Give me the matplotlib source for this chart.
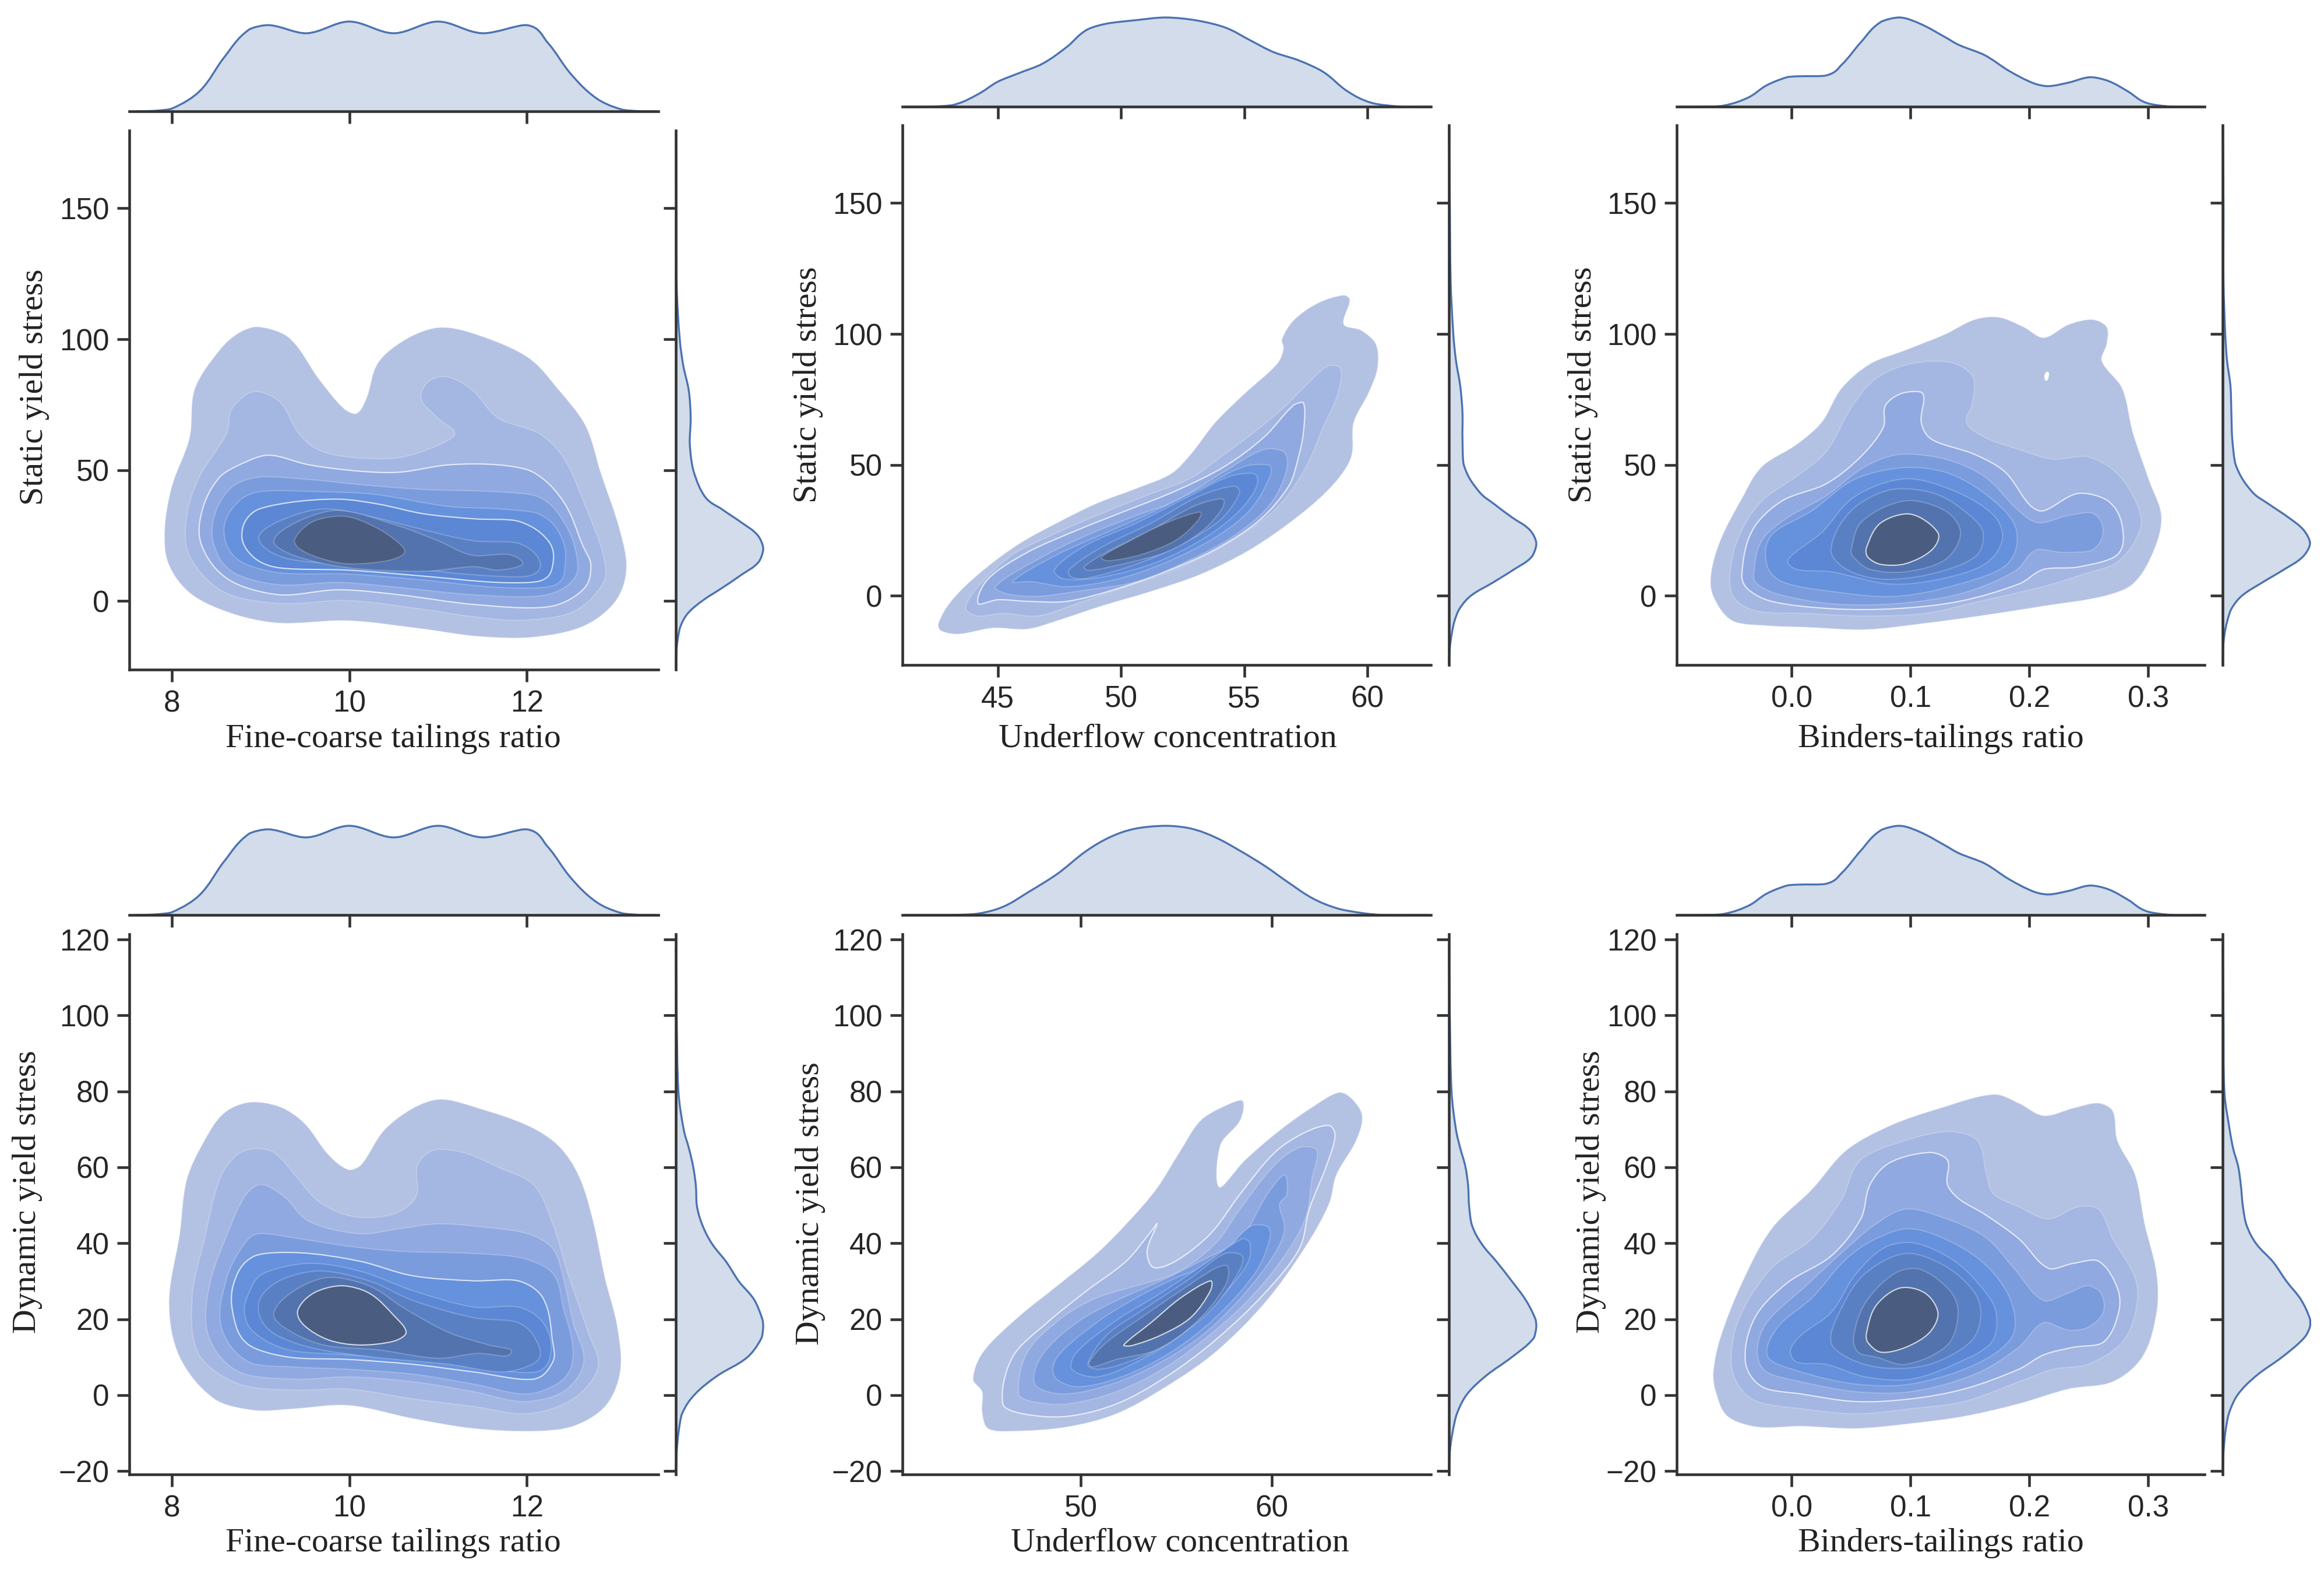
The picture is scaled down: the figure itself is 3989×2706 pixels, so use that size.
import numpy as np
import matplotlib
matplotlib.use('Agg')
import matplotlib.pyplot as plt
from matplotlib.path import Path
from matplotlib.patches import PathPatch

W, H = 3989, 2706

band_colors = ['#b3c1e3', '#a4b6e2', '#90a9e0', '#7a9cdd', '#6691dc',
               '#5b87d4', '#5a80c4', '#5273ad', '#4a5d80']

# contour outlines, outermost first in data units
fine_static = [
    [(8.98,104.7),(9.32,100.6),(9.66,84.7),(9.94,73.5),(10.08,71.6),(10.19,77.2),(10.33,91.3),(10.67,100.6),(11.03,104.5),(11.45,101.6),(12.01,93.1),(12.35,81),(12.66,67),(12.83,49.2),(13.05,26.7),(13.12,11.8),(12.99,-0.4),(12.63,-9.7),(12.07,-13.8),(11.45,-13.5),(10.84,-10.7),(9.99,-7.5),(9.21,-8.4),(8.70,-5),(8.23,2.4),(7.97,13.7),(7.92,26.7),(8.0,43.6),(8.2,62.3),(8.26,81),(8.54,95.9),(8.76,102.5)],
    [(8.93,80),(9.21,76.3),(9.43,64.1),(9.66,57.6),(10.05,54.8),(10.56,54.8),(11.0,59.5),(11.19,64.1),(11.0,69.8),(10.81,77.2),(10.89,83.8),(11.09,85.7),(11.37,81),(11.68,69.8),(12.13,64.1),(12.41,54.8),(12.66,36.1),(12.86,17.4),(12.86,7.1),(12.52,-4.1),(11.96,-7.3),(11.4,-6),(10.84,-3.2),(9.99,0.2),(9.21,-0.9),(8.59,3.4),(8.2,17.4),(8.17,32.4),(8.31,47.3),(8.62,64.1),(8.68,73.5)],
    [(9.1,55.7),(9.55,52),(10.11,49.6),(10.56,49.2),(11.12,52),(11.68,52),(12.07,49.2),(12.41,38),(12.63,21.1),(12.72,13.7),(12.63,4.3),(12.24,-2.2),(11.4,-1.3),(10.56,2.4),(9.88,4.3),(9.21,2.4),(8.65,8),(8.34,21.1),(8.34,34.2),(8.54,47.3),(8.82,52.9)],
    [(8.98,47.3),(9.55,46.4),(10.11,44.5),(10.84,42.6),(11.68,41.7),(12.13,39.8),(12.41,30.5),(12.56,17.4),(12.52,8),(12.18,2.1),(11.4,2.4),(10.56,5.2),(9.88,7.1),(9.21,6.2),(8.7,10.8),(8.48,21.1),(8.48,32.4),(8.68,43.6)],
    [(8.98,41.7),(9.71,41.7),(10.27,40.8),(11.12,36.1),(11.68,35.2),(12.13,33.3),(12.38,24.9),(12.43,13.7),(12.29,5.8),(11.68,5.2),(10.84,8),(9.99,10.3),(9.21,10.8),(8.76,15.5),(8.59,25.8),(8.7,36.1)],
    [(8.79,24.9),(8.93,34.2),(9.32,37.6),(9.88,38.9),(10.33,37),(10.84,33.3),(11.4,31.4),(11.9,30.5),(12.24,23),(12.29,13.7),(12.15,7.7),(11.68,7.1),(10.84,9.5),(9.99,11.8),(9.21,12.7),(8.93,16.5)],
    [(8.98,23.9),(9.21,30.5),(9.71,35.2),(10.22,32.4),(10.78,27.7),(11.4,23),(11.9,22.1),(12.15,14.6),(12.01,9.5),(11.45,9.9),(10.84,11.8),(9.99,13.7),(9.27,16.5)],
    [(9.15,23),(9.43,30.5),(9.88,34.6),(10.56,28.6),(11,23),(11.4,17.4),(11.79,17.8),(11.95,14),(11.68,11.8),(11.4,13.1),(10.84,11.4),(9.99,12.7),(9.38,17.4)],
    [(9.39,23.9),(9.6,30.5),(9.94,32.4),(10.27,28.6),(10.56,22.1),(10.62,18.3),(10.44,15.5),(9.99,14.2),(9.66,16.5),(9.43,20.2)],
]

under_static = [
    [(42.59,-10.5),(43.1,-2.1),(44.2,8.2),(45.8,19.5),(47.41,27.9),(49.01,35.3),(50.61,41),(52.02,46.6),(52.82,54),(53.82,66.2),(55.03,77.4),(56.33,88.6),(56.59,94.3),(56.53,98),(57.03,105.5),(58.03,112),(59.04,114.8),(59.28,113),(59.04,103.6),(59.74,101.4),(60.34,96.1),(60.4,86.8),(60.04,77.4),(59.44,66.2),(59.34,53.1),(58.64,42.8),(57.23,30.7),(55.23,17.6),(53.22,8.2),(51.22,1.7),(49.21,-3.9),(47.41,-9.5),(46.2,-12.7),(44.8,-12.3),(43.4,-14.6),(42.69,-13.3)],
    [(43.7,-4.9),(44.2,3.5),(45.6,15.7),(47.4,24.1),(49.0,30.6),(51.0,38.2),(52.8,44.8),(54.2,54.1),(55.4,62.5),(56.6,71.9),(57.4,79.4),(58.4,87.8),(58.9,86.9),(58.8,77.4),(58.2,64.4),(57.4,47.5),(56.2,32.5),(54.2,19.4),(52.2,10),(50.2,3.5),(48.2,-3),(46.6,-7.7),(45.2,-6.7),(44.2,-7.7)],
    [(44.2,-3),(44.6,6.4),(46.2,16.6),(48.2,25),(50.2,32.5),(52.2,40),(54.2,49.4),(55.8,60.6),(57.0,72.8),(57.4,73.7),(57.4,62.5),(57.2,53.1),(56.8,41.9),(55.6,28.8),(53.8,17.6),(51.8,9.2),(49.8,2.6),(47.8,-2.1),(46.2,-2.1),(45.0,-1.5)],
    [(44.9,3.5),(46.6,13.8),(48.6,23.1),(50.6,30.6),(52.2,36.2),(54.2,47.5),(55.8,55.9),(56.6,55),(56.7,47.5),(56.0,34.4),(54.6,23.1),(52.8,13.8),(50.6,5.4),(48.2,1.7),(46.6,-0.2),(45.4,0.7)],
    [(45.6,5.4),(47.4,15.7),(49.4,24.1),(51.4,32.5),(53.4,41.9),(55.0,49.4),(56.0,49.8),(56.0,44.8),(55.2,32.5),(53.8,22.2),(51.8,12.7),(49.8,6.3),(47.8,3.5),(46.4,5.4)],
    [(47.3,10),(48.6,19.4),(50.6,27.7),(52.8,38.2),(54.4,45.6),(55.4,46.6),(55.5,41.9),(54.8,32.5),(53.4,22.2),(51.4,12.7),(49.2,7.1),(47.7,6.4)],
    [(47.9,10),(49.2,18.5),(51.2,27.7),(53.2,38.2),(54.6,41.9),(54.8,39.1),(54.0,28.8),(52.4,19.4),(50.6,12),(48.6,6.7),(48.0,7.1)],
    [(48.5,11),(49.4,16.6),(51.2,25),(53.0,34.4),(54.1,37),(54.1,33.3),(53.2,24.1),(51.8,16.6),(50,12),(48.7,9.7)],
    [(49.2,14.6),(50.2,20.2),(51.8,27.7),(53.2,32),(53.1,28.6),(52.2,21.1),(50.8,15.7),(49.5,13.4)],
]

binder_static = [
    [(-.068,8.2),(-.060,21.3),(-.042,37.2),(-.025,49.4),(.004,57.8),(.025,66.2),(.042,79.3),(.066,88.6),(.096,93.9),(.129,99.9),(.154,105.5),(.174,106.4),(.195,102.7),(.212,98.6),(.233,103.6),(.253,105.5),(.265,102.7),(.265,96.1),(.261,89.6),(.278,79.3),(.287,62.5),(.301,43.8),(.311,30.7),(.305,17.6),(.287,4.5),(.262,-.2),(.212,-3.9),(.158,-7.7),(.112,-10.5),(.062,-12.9),(.012,-12),(-.021,-11.4),(-.050,-9.5),(-.066,-.2)],
    [(-.052,8.2),(-.044,23.2),(-.025,36.3),(.004,45.6),(.029,55),(.05,71.8),(.071,83),(.1,88.6),(.133,89.2),(.152,84),(.152,73.7),(.147,66.2),(.162,60.6),(.191,55.9),(.22,52.2),(.249,53.1),(.274,46.6),(.291,34.4),(.293,25.1),(.274,12.9),(.245,8.2),(.212,3.6),(.158,-2.1),(.112,-6.7),(.062,-7.7),(.012,-6.7),(-.029,-5.8),(-.048,-1.1)],
    [(-.042,8.2),(-.033,25.1),(-.008,36.3),(.029,42.8),(.058,53.1),(.077,64.3),(.079,72.8),(.093,77.4),(.11,77.4),(.109,66.2),(.118,59.7),(.154,54),(.179,47.5),(.208,32.5),(.241,39.1),(.266,36.3),(.278,26.9),(.274,15.7),(.241,11),(.212,10.1),(.191,4.5),(.141,-2.1),(.087,-4.9),(.033,-4.9),(-.017,-2.1),(-.037,2.6)],
    [(-.032,8.2),(-.025,21.3),(-.004,29.7),(.029,38.2),(.062,49.4),(.091,54),(.129,52.2),(.162,45.6),(.191,32.5),(.208,27.9),(.233,30.7),(.253,31.6),(.262,25.1),(.253,17.6),(.228,16.6),(.206,17.6),(.187,9.2),(.141,.7),(.087,-3),(.033,-3),(-.012,.7),(-.029,4.5)],
    [(-.021,12),(-.017,23.2),(.017,32.5),(.054,44.7),(.096,49),(.133,46.6),(.17,36.3),(.189,25.1),(.181,12),(.141,4.5),(.087,-.2),(.033,1.7),(-.008,5.4)],
    [(-.003,13.8),(.025,24.1),(.054,38.2),(.096,44.7),(.137,40),(.17,30.7),(.177,21.3),(.162,12),(.125,6.4),(.083,4.5),(.033,9.2),(.004,10.1)],
    [(.033,17.6),(.05,32.5),(.083,40.5),(.12,39.1),(.15,30.7),(.161,24.1),(.154,14.8),(.116,8.2),(.075,6.4),(.046,10.1)],
    [(.05,17.6),(.06,28.8),(.096,36.3),(.129,32.5),(.142,24.1),(.129,13.8),(.096,9.2),(.066,10.1),(.052,14.8)],
    [(.063,18.5),(.075,27.9),(.1,31.2),(.123,24.1),(.118,17.6),(.096,12.3),(.075,12),(.064,14.8)],
]
binder_static_hole = [(.2125,84),(.2145,85.6),(.2165,85),(.2155,82.6),(.2135,82.2)]

fine_dynamic = [
    [(8.87,77.1),(9.21,76),(9.49,71.7),(9.77,63.2),(9.99,59.4),(10.13,60.6),(10.39,69.7),(10.72,75.6),(11.03,77.9),(11.45,75.6),(12.01,71),(12.35,65.8),(12.58,58),(12.74,46.4),(12.88,30.8),(13.02,17.8),(13.05,6.1),(12.88,-3),(12.52,-8.2),(12.07,-9.5),(11.4,-8.8),(10.72,-6.2),(9.99,-2.7),(9.38,-3.6),(8.93,-4),(8.48,-1),(8.09,10),(7.97,24.3),(8.09,42.5),(8.17,56.8),(8.37,67.1),(8.59,74.3)],
    [(8.93,64.9),(9.15,63.9),(9.43,56.8),(9.66,50.9),(10.05,47),(10.5,47.7),(10.75,52.2),(10.77,60.6),(10.95,64.5),(11.28,63.9),(11.68,60),(12.07,55.5),(12.29,45.1),(12.46,32.1),(12.69,16.5),(12.8,7.4),(12.52,-1),(12.01,-4.9),(11.4,-3),(10.72,-1),(9.99,1.6),(9.38,1.3),(8.76,2.9),(8.31,10.6),(8.23,25.6),(8.37,41.2),(8.54,56.8),(8.73,63.2)],
    [(9.01,55.5),(9.27,52.2),(9.55,45.7),(10.11,42.5),(10.56,43.8),(11,45.1),(11.45,44.4),(12.01,42.5),(12.29,38.6),(12.41,30.8),(12.52,19.1),(12.64,8.7),(12.41,.9),(11.96,-1.7),(11.4,.9),(10.72,3.5),(9.99,4.8),(9.38,4.2),(8.76,6.1),(8.42,15.2),(8.42,28.2),(8.65,43.8),(8.84,52.9)],
    [(8.98,42.5),(9.43,41.2),(9.99,39.2),(10.56,37.9),(11.4,37.3),(11.96,36),(12.29,32.1),(12.41,23),(12.52,11.3),(12.41,4.2),(12.01,.3),(11.4,2.9),(10.72,5.5),(9.99,6.8),(9.38,7.4),(8.87,8.7),(8.56,17.8),(8.62,30.8),(8.82,39.9)],
    [(8.93,36.6),(9.43,37.5),(10.11,35.3),(10.72,31.4),(11.4,30.1),(11.9,30.1),(12.18,25.6),(12.29,13.9),(12.29,8.7),(12.07,4.2),(11.4,6.1),(10.72,8.1),(9.99,9.4),(9.32,10),(8.87,13.2),(8.7,20.4),(8.7,29.5)],
    [(8.87,26.9),(9.04,32.1),(9.55,34.7),(10.11,32.7),(10.72,27.5),(11.4,23.2),(11.9,23.2),(12.18,19.1),(12.27,11.3),(12.1,6.1),(11.4,7.4),(10.72,9.4),(9.99,10.6),(9.32,11.9),(8.93,16.5),(8.82,21.7)],
    [(8.98,24.3),(9.21,30.1),(9.66,32.7),(10.22,30.1),(10.72,24.9),(11.4,20.4),(11.9,19.1),(12.13,13.2),(12.1,8.7),(11.73,6.1),(11.12,8.1),(10.27,10),(9.55,12.6),(9.1,17.1)],
    [(9.15,21.7),(9.38,27.5),(9.77,31),(10.22,28.8),(10.61,23),(11.12,16.5),(11.57,13.2),(11.82,11.9),(11.76,10.3),(11.45,11),(11,9.7),(10.33,11.9),(9.71,13.2),(9.27,17.8)],
    [(9.42,22.3),(9.6,26.9),(9.91,28.8),(10.22,26.9),(10.5,21),(10.64,16.5),(10.5,14.2),(10.11,13.2),(9.77,14.5),(9.49,18.4)],
]

under_dynamic = [
    [(44.35,4.2),(44.87,11.3),(46.68,20.4),(48.76,28.8),(50.83,37.3),(52.38,45.1),(53.94,54.2),(55.23,64.5),(56.27,72.3),(57.56,76.2),(58.47,77.5),(58.34,72.3),(57.31,65.8),(57.25,54.8),(58.6,61.9),(60.41,69.7),(62.23,76.2),(63.52,79.7),(64.17,78.2),(64.74,73.6),(64.43,67.1),(63.39,58),(63,50.3),(61.71,38.6),(59.64,24.3),(57.05,11.3),(54.46,2.2),(51.87,-4.9),(49.27,-8.4),(46.42,-9.5),(45.13,-8.8),(44.82,-4.3),(44.82,.9)],
    [(45.91,-2.3),(46.42,10),(48.24,19.1),(50.31,27.5),(52.38,35.3),(53.68,43.1),(53.99,45.1),(53.47,37.9),(53.81,33.6),(54.97,35.3),(56.79,42.5),(58.34,52.9),(60.16,63.9),(61.71,69.1),(63,71),(63.32,68.4),(62.88,60.6),(61.97,49),(61.45,38.6),(59.64,26.9),(57.05,14.5),(54.46,4.8),(51.87,-2.3),(49.27,-5.6),(46.94,-4.9)],
    [(46.74,.3),(47.2,11.3),(49.02,20.4),(50.83,25.6),(52.9,28.8),(54.97,32.1),(57.05,39.9),(58.34,49),(60.16,60.6),(61.45,65.2),(62.36,64.5),(62.1,56.8),(61.84,47.7),(60.93,38.6),(59.12,26.9),(57.05,17.1),(54.46,7.4),(51.87,.9),(49.27,-2.3),(47.46,-1.7)],
    [(47.59,2.9),(47.98,10.6),(49.79,19.1),(51.87,24.9),(54.2,30.1),(56.27,35.3),(58.34,41.2),(59.77,52.9),(60.67,58),(60.8,52.9),(60.41,50.3),(60.67,43.8),(60.16,37.3),(58.6,26.9),(56.53,16.5),(54.2,8.7),(51.61,2.9),(49.02,.3)],
    [(48.63,4.8),(48.76,10),(50.83,19.1),(52.9,25.6),(54.97,30.8),(57.05,35.3),(58.86,44.4),(59.77,44.4),(59.9,41.2),(59.12,32.1),(57.05,20.4),(54.72,11.3),(52.12,4.8),(49.79,2.2)],
    [(49.53,6.8),(49.79,11.3),(51.87,19.7),(54.2,26.9),(56.53,34.7),(58.47,41.2),(58.86,39.9),(58.73,34.7),(57.31,25.6),(55.23,15.8),(52.9,8.7),(50.83,4.8)],
    [(50.36,8.1),(51.35,15.8),(53.42,23),(55.75,30.8),(57.56,37.3),(58.47,36.6),(58.08,30.8),(56.53,21),(54.2,12.6),(52.12,8.1),(50.83,6.8)],
    [(50.44,8.7),(51.35,13.9),(53.16,20.4),(55.23,27.5),(57.05,33.4),(57.69,34),(57.56,28.8),(56.01,19.1),(53.94,11.9),(51.87,9.4),(50.57,7.4)],
    [(52.25,13.2),(53.68,19.1),(55.23,25.6),(56.79,30.1),(56.79,27.5),(55.75,20.4),(54.2,15.8),(52.64,13)],
]

binder_dynamic = [
    [(-.066,6.1),(-.06,15.2),(-.042,29.5),(-.017,43.8),(.017,54.2),(.046,64.5),(.083,71),(.125,75.6),(.17,79.2),(.191,76.9),(.212,73.6),(.237,75.6),(.258,76.9),(.27,74.9),(.274,67.1),(.289,58),(.297,45.1),(.307,32.1),(.307,21.7),(.295,10),(.27,3.5),(.233,1.6),(.191,-2.3),(.145,-5.6),(.1,-7.5),(.054,-8.8),(.008,-8.2),(-.029,-8.4),(-.054,-5.6),(-.064,.9)],
    [(-.051,8.7),(-.044,20.4),(-.017,33.4),(.017,41.2),(.042,51.6),(.058,61.9),(.096,67.1),(.133,69.4),(.156,67.1),(.164,58),(.17,52.9),(.191,49.6),(.216,46.4),(.241,49.6),(.258,49),(.27,41.2),(.289,30.8),(.29,23),(.278,13.9),(.249,8.1),(.22,6.8),(.191,3.5),(.145,-1.7),(.1,-3.6),(.054,-4.9),(.008,-3.6),(-.029,-1.7),(-.044,2.2)],
    [(-.039,8.7),(-.031,20.4),(-.004,29.5),(.033,36.6),(.058,46.4),(.066,55.5),(.083,61.3),(.116,63.9),(.131,61.9),(.131,55.5),(.141,51.6),(.162,47.7),(.191,41.2),(.216,33.4),(.237,34.7),(.258,35.3),(.274,28.2),(.275,21.7),(.262,13.9),(.237,12.6),(.212,10.6),(.191,6.8),(.145,1.6),(.1,-1),(.054,-1.7),(.008,.3),(-.025,2.2)],
    [(-.029,11.3),(-.021,19.1),(.012,28.8),(.046,38.6),(.071,45.1),(.096,49),(.125,47),(.162,41.8),(.187,33.4),(.212,24.9),(.233,26.9),(.249,28.8),(.26,26.9),(.262,21.7),(.249,17.8),(.233,17.1),(.212,19.1),(.191,12.6),(.154,5.5),(.1,.9),(.054,.9),(.008,3.5),(-.021,6.1)],
    [(-.02,10),(-.012,17.8),(.017,25.6),(.046,35.9),(.071,41.2),(.1,43.8),(.137,39.9),(.166,33.4),(.185,24.3),(.185,15.2),(.154,8),(.1,2.9),(.054,2.9),(.008,6.1)],
    [(-.001,11.9),(.008,15.8),(.033,21.7),(.054,31.9),(.079,39),(.104,40),(.137,35.3),(.162,27.5),(.172,21.7),(.168,13.9),(.141,8.7),(.1,4.2),(.062,4.8),(.029,8.1),(.004,8.7)],
    [(.033,13.9),(.042,23),(.062,32.1),(.096,37.3),(.129,34),(.154,26.9),(.159,20.4),(.15,13.9),(.116,8.1),(.079,7.1),(.05,9.4)],
    [(.052,15.2),(.062,24.3),(.087,32.1),(.108,33.1),(.133,27.5),(.14,21.7),(.131,13.2),(.096,8.1),(.071,10),(.056,11.3)],
    [(.063,16.5),(.071,23.6),(.091,28.2),(.112,26.9),(.123,21.7),(.116,16.5),(.096,12.6),(.075,11.3),(.064,13.9)],
]

# marginal densities, as a share of the peak height
fine_top_x = [7.6, 7.8, 8.0, 8.31, 8.59, 8.87, 9.1, 9.52, 10, 10.5, 11, 11.5, 12, 12.23, 12.5, 12.79, 13.07, 13.3, 13.45]
fine_top_f = [0, 0.005, .03, .22, .6, .91, .96, .87, 1, .87, 1, .87, .96, .77, .41, .14, .02, 0, 0]

under1_top_x = [41.2, 42.2, 43.2, 44.2, 45, 45.8, 46.8, 47.8, 48.6, 49.4, 50.6, 51.8, 53, 54.2, 55.2, 56.2, 57.2, 58.2, 59.2, 60.2, 61.4, 62.5]
under1_top_f = [0, 0, .02, .14, .28, .37, .48, .67, .86, .93, .97, 1, .97, .89, .75, .61, .52, .39, .17, .04, 0, 0]

under2_top_x = [40.8, 43.06, 44.6, 45.9, 47.2, 48.76, 50.3, 51.6, 52.9, 54.46, 55.75, 57.05, 58.34, 59.64, 60.9, 62.2, 63.5, 64.8, 65.85, 68.2]
under2_top_f = [0, 0, .015, .09, .25, .46, .72, .88, .97, 1, .97, .87, .72, .55, .36, .18, .07, .02, 0, 0]

binder_top_x = [-.095, -.079, -.058, -.037, -.021, -.004, .004, .029, .042, .058, .075, .091, .108, .129, .141, .162, .183, .204, .216, .233, .251, .266, .283, .299, .32, .345]
binder_top_f = [0, 0, .01, .1, .24, .33, .34, .35, .47, .72, .95, 1, .93, .78, .69, .58, .4, .26, .23, .27, .33, .29, .17, .04, 0, 0]

static_y = [-26, -20, -15, -10, -5, 0, 5, 10, 15, 20, 25, 30, 35, 40, 50, 60, 70, 80, 90, 100, 120, 150, 179]
static_fine_f = [0, .005, .02, .05, .13, .3, .53, .75, .95, 1, .94, .75, .53, .33, .2, .16, .17, .15, .085, .045, .01, .005, .002]
static_under_f = [0, .01, .03, .06, .12, .25, .5, .74, .95, 1, .93, .72, .52, .34, .17, .155, .155, .13, .08, .05, .02, .01, 0]
static_binder_f = [0, .005, .02, .05, .1, .22, .45, .7, .92, 1, .93, .75, .53, .33, .15, .11, .1, .09, .05, .03, .01, .01, 0]

dynamic_y = [-20.5, -15, -10, -5, 0, 5, 10, 15, 18, 20, 25, 30, 35, 40, 45, 50, 55, 60, 65, 70, 80, 100, 118]
dynamic_fine_f = [0, .01, .03, .07, .21, .47, .82, .98, 1, .99, .9, .72, .58, .41, .3, .24, .23, .2, .15, .09, .03, .01, 0]
dynamic_under_f = [0, .01, .04, .09, .2, .42, .72, .97, 1, .99, .88, .72, .55, .37, .26, .23, .22, .19, .13, .08, .03, .01, 0]
dynamic_binder_f = [0, .01, .03, .07, .17, .38, .68, .93, 1, 1, .9, .73, .58, .38, .27, .23, .21, .18, .12, .08, .02, .01, 0]

# left, right, top, bottom of main axes in pixels, then top and right margin baselines
panels = [
    dict(box=(222, 1130, 224, 1149), base=191, rx=1160, peak=37, levels=fine_static, hole=None, bright=[2, 5],
         xlim=(7.523, 13.48), ylim=(-26.2, 179.7), xt=[8, 10, 12], xtl=None, yt=[0, 50, 100, 150],
         tx=fine_top_x, tf=fine_top_f, ry=static_y, rf=static_fine_f,
         xl='Fine-coarse tailings ratio', yl='Static yield stress', xlp=(675, 1268), ylp=(59, 664)),
    dict(box=(1549, 2456, 215, 1141), base=183, rx=2487, peak=30, levels=under_static, hole=None, bright=[2],
         xlim=(41.13, 62.57), ylim=(-26.4, 179.7), xt=[45, 50, 55, 60], xtl=None, yt=[0, 50, 100, 150],
         tx=under1_top_x, tf=under1_top_f, ry=static_y, rf=static_under_f,
         xl='Underflow concentration', yl='Static yield stress', xlp=(2004, 1268), ylp=(1387, 660)),
    dict(box=(2878, 3784, 215, 1141), base=183, rx=3815, peak=30, levels=binder_static, hole=binder_static_hole, bright=[2, 8],
         xlim=(-.0968, .3474), ylim=(-26.4, 179.7), xt=[0, .1, .2, .3], xtl=['0.0', '0.1', '0.2', '0.3'], yt=[0, 50, 100, 150],
         tx=binder_top_x, tf=binder_top_f, ry=static_y, rf=static_binder_f,
         xl='Binders-tailings ratio', yl='Static yield stress', xlp=(3331, 1268), ylp=(2717, 660)),
    dict(box=(222, 1130, 1603, 2530), base=1570, rx=1160, peak=1417, levels=fine_dynamic, hole=None, bright=[4, 8],
         xlim=(7.523, 13.48), ylim=(-20.9, 121.4), xt=[8, 10, 12], xtl=None, yt=[-20, 0, 20, 40, 60, 80, 100, 120],
         tx=fine_top_x, tf=fine_top_f, ry=dynamic_y, rf=dynamic_fine_f,
         xl='Fine-coarse tailings ratio', yl='Dynamic yield stress', xlp=(675, 2648), ylp=(47, 2045)),
    dict(box=(1549, 2456, 1603, 2530), base=1570, rx=2487, peak=1417, levels=under_dynamic, hole=None, bright=[1, 8],
         xlim=(40.65, 68.34), ylim=(-20.9, 121.4), xt=[50, 60], xtl=None, yt=[-20, 0, 20, 40, 60, 80, 100, 120],
         tx=under2_top_x, tf=under2_top_f, ry=dynamic_y, rf=dynamic_under_f,
         xl='Underflow concentration', yl='Dynamic yield stress', xlp=(2025, 2648), ylp=(1391, 2065)),
    dict(box=(2878, 3784, 1603, 2530), base=1570, rx=3815, peak=1417, levels=binder_dynamic, hole=None, bright=[2, 8],
         xlim=(-.0968, .3474), ylim=(-20.9, 121.4), xt=[0, .1, .2, .3], xtl=['0.0', '0.1', '0.2', '0.3'], yt=[-20, 0, 20, 40, 60, 80, 100, 120],
         tx=binder_top_x, tf=binder_top_f, ry=dynamic_y, rf=dynamic_binder_f,
         xl='Binders-tailings ratio', yl='Dynamic yield stress', xlp=(3331, 2648), ylp=(2731, 2045)),
]

plt.rcParams['font.family'] = ['Liberation Sans', 'DejaVu Sans']
dark = '#333333'
line_blue = '#4c72b0'
fill_blue = '#d2dcea'


def tangents(p, closed):
    # chord-length tangents so uneven point spacing does not leave kinks
    q = (p - p.min(axis=0)) / np.maximum(np.ptp(p, axis=0), 1e-9)
    n = len(p)
    chord = np.hypot(*(np.roll(q, -1, axis=0) - q).T) + 1e-6
    tan = np.zeros_like(p)
    for i in range(n):
        if not closed and (i == 0 or i == n - 1):
            continue
        prev, nxt = (i - 1) % n, (i + 1) % n
        tan[i] = (p[nxt] - p[prev]) / (chord[prev] + chord[i])
    return tan, chord


def smooth_closed(pts):
    p = np.array(pts, dtype=float)
    tan, chord = tangents(p, True)
    n = len(p)
    verts = [p[0]]
    codes = [Path.MOVETO]
    for i in range(n):
        j = (i + 1) % n
        verts += [p[i] + tan[i] * chord[i] / 3, p[j] - tan[j] * chord[i] / 3, p[j]]
        codes += [Path.CURVE4] * 3
    return Path(verts, codes)


def smooth_open(xs, ys, close_base=False):
    p = np.column_stack([xs, ys]).astype(float)
    tan, chord = tangents(p, False)
    verts = [p[0]]
    codes = [Path.MOVETO]
    for i in range(len(p) - 1):
        verts += [p[i] + tan[i] * chord[i] / 3, p[i + 1] - tan[i + 1] * chord[i] / 3, p[i + 1]]
        codes += [Path.CURVE4] * 3
    if close_base:
        verts.append(p[0])
        codes.append(Path.LINETO)
    return Path(verts, codes)


def px_axes(fig, left, right, top, bottom):
    return fig.add_axes([left / W, 1 - bottom / H, (right - left) / W, (bottom - top) / H])


fig = plt.figure(figsize=(W / 300, H / 300), dpi=300)

for pn in panels:
    left, right, top, bottom = pn['box']
    ax = px_axes(fig, left, right, top, bottom)
    ax.set_xlim(pn['xlim'])
    ax.set_ylim(pn['ylim'])
    ax.set_xticks(pn['xt'])
    if pn['xtl']:
        ax.set_xticklabels(pn['xtl'])
    ax.set_yticks(pn['yt'])
    ax.tick_params(length=5, width=1.1, color=dark, labelcolor='#262626', labelsize=12.3, pad=3.2)
    for s in ['top', 'right']:
        ax.spines[s].set_visible(False)
    for s in ['left', 'bottom']:
        ax.spines[s].set_linewidth(1.1)
        ax.spines[s].set_color(dark)

    # nested filled contours, then their thin pale edges
    for i, (outline, col) in enumerate(zip(pn['levels'], band_colors)):
        path = smooth_closed(outline)
        ax.add_patch(PathPatch(path, facecolor=col, edgecolor='none'))
        edge_alpha = 0.75 if i in pn['bright'] else 0.22
        ax.add_patch(PathPatch(path, facecolor='none', edgecolor=(1, 1, 1, edge_alpha), lw=0.5))
    if pn['hole']:
        ax.add_patch(PathPatch(smooth_closed(pn['hole']), facecolor='white', edgecolor='none'))

    # top marginal
    top_ax = px_axes(fig, left, right, pn['peak'], pn['base'])
    top_ax.patch.set_alpha(0)
    top_ax.set_xlim(pn['xlim'])
    top_ax.set_ylim(0, 1)
    top_ax.add_patch(PathPatch(smooth_open(pn['tx'], pn['tf'], close_base=True), facecolor=fill_blue, edgecolor='none'))
    top_ax.add_patch(PathPatch(smooth_open(pn['tx'], pn['tf']), facecolor='none', edgecolor=line_blue, lw=0.8, clip_on=False))
    top_ax.set_xticks(pn['xt'])
    top_ax.set_yticks([])
    top_ax.tick_params(length=5, width=1.1, color=dark, labelbottom=False)
    for s in ['top', 'right', 'left']:
        top_ax.spines[s].set_visible(False)
    top_ax.spines['bottom'].set_linewidth(1.1)
    top_ax.spines['bottom'].set_color(dark)

    # right marginal
    right_ax = px_axes(fig, pn['rx'], pn['rx'] + 150, top, bottom)
    right_ax.patch.set_alpha(0)
    right_ax.set_ylim(pn['ylim'])
    right_ax.set_xlim(0, 1)
    right_ax.add_patch(PathPatch(smooth_open(pn['rf'], pn['ry'], close_base=True), facecolor=fill_blue, edgecolor='none'))
    right_ax.add_patch(PathPatch(smooth_open(pn['rf'], pn['ry']), facecolor='none', edgecolor=line_blue, lw=0.8, clip_on=False))
    right_ax.set_yticks(pn['yt'])
    right_ax.set_xticks([])
    right_ax.tick_params(length=5, width=1.1, color=dark, labelleft=False)
    for s in ['top', 'right', 'bottom']:
        right_ax.spines[s].set_visible(False)
    right_ax.spines['left'].set_linewidth(1.1)
    right_ax.spines['left'].set_color(dark)

    # labels
    fig.text(pn['xlp'][0] / W, 1 - pn['xlp'][1] / H, pn['xl'], family='Liberation Serif', fontsize=13.9,
             color='#222222', ha='center', va='center')
    fig.text(pn['ylp'][0] / W, 1 - pn['ylp'][1] / H, pn['yl'], family='Liberation Serif', fontsize=13.9,
             color='#222222', ha='center', va='center', rotation=90)

fig.savefig('out.png', dpi=300)
